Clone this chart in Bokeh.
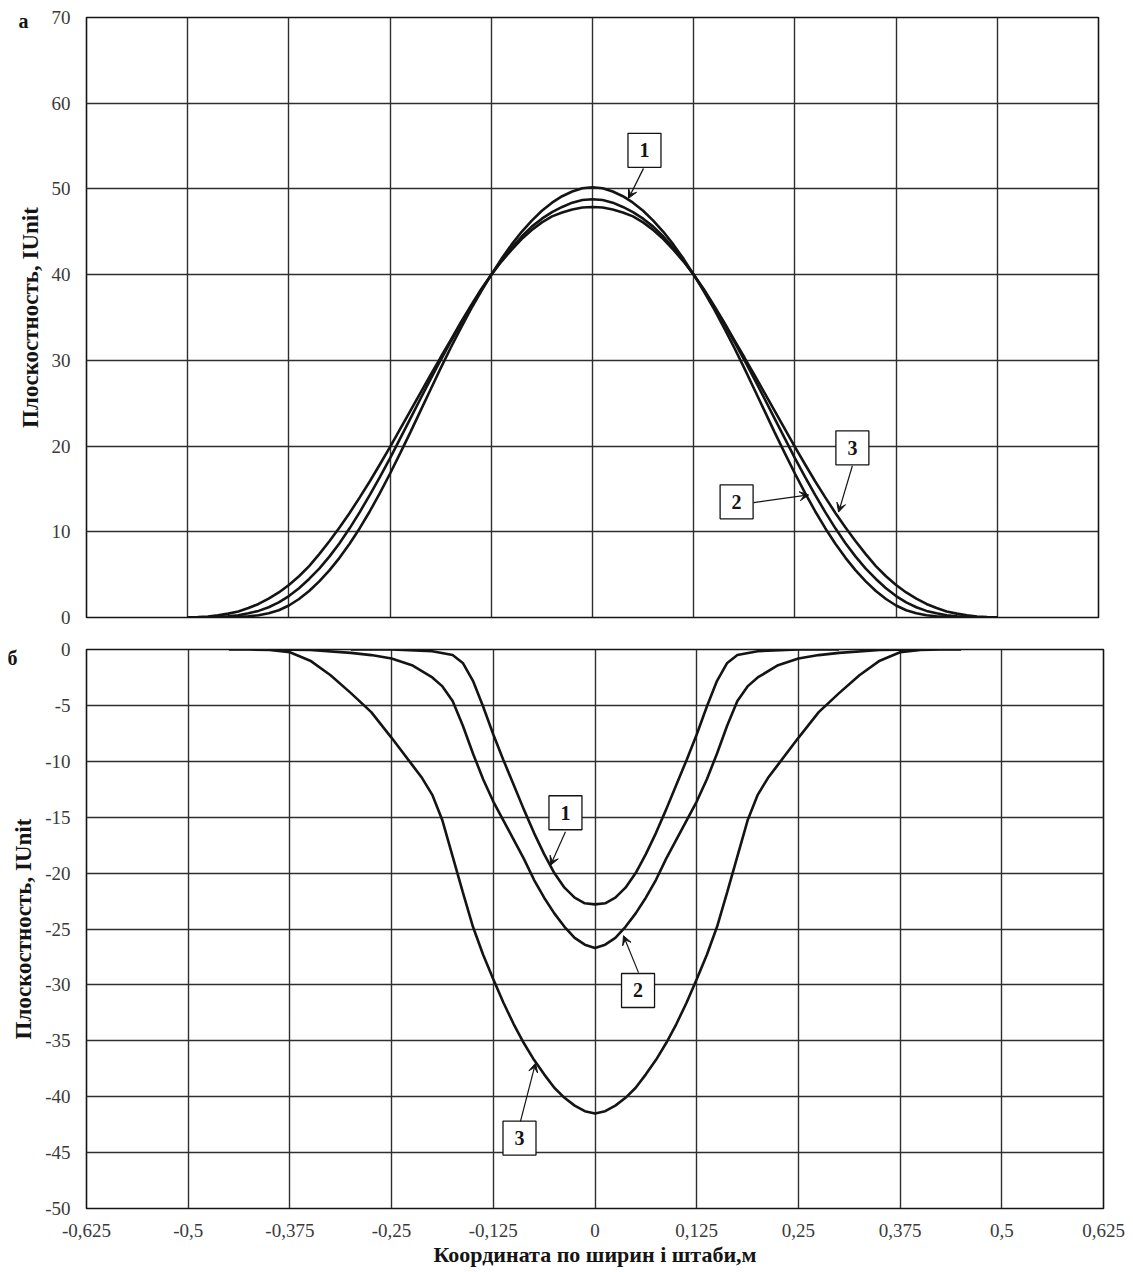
from bokeh.plotting import figure
from bokeh.layouts import column
from bokeh.models import FixedTicker, Arrow, VeeHead, Range1d, LinearAxis
from bokeh.core.properties import value
from bokeh.embed import file_html
from bokeh.resources import INLINE

# ---------------- data ----------------
x_ticks = [-0.625, -0.5, -0.375, -0.25, -0.125, 0.0, 0.125, 0.25, 0.375, 0.5, 0.625]
x_tick_labels = ["-0,625", "-0,5", "-0,375", "-0,25", "-0,125", "0",
                 "0,125", "0,25", "0,375", "0,5", "0,625"]
top_y_ticks = [0, 10, 20, 30, 40, 50, 60, 70]
bottom_y_ticks = [0, -5, -10, -15, -20, -25, -30, -35, -40, -45, -50]
panel_letters = ["а", "б"]
curve_names = ["1", "2", "3"]

# panel "а": positive flatness across the strip width
top_x = [-0.5, -0.4875, -0.475, -0.4625, -0.45, -0.4375, -0.425, -0.4125, -0.4, -0.3875,
         -0.375, -0.3625, -0.35, -0.3375, -0.325, -0.3125, -0.3, -0.2875, -0.275, -0.2625,
         -0.25, -0.2375, -0.225, -0.2125, -0.2, -0.1875, -0.175, -0.1625, -0.15, -0.1375,
         -0.125, -0.1125, -0.1, -0.0875, -0.075, -0.0625, -0.05, -0.0375, -0.025, -0.0125,
         0.0,
         0.0125, 0.025, 0.0375, 0.05, 0.0625, 0.075, 0.0875, 0.1, 0.1125, 0.125,
         0.1375, 0.15, 0.1625, 0.175, 0.1875, 0.2, 0.2125, 0.225, 0.2375, 0.25,
         0.2625, 0.275, 0.2875, 0.3, 0.3125, 0.325, 0.3375, 0.35, 0.3625, 0.375,
         0.3875, 0.4, 0.4125, 0.425, 0.4375, 0.45, 0.4625, 0.475, 0.4875, 0.5]
top_curve1 = [0, 0, 0, 0.01, 0.03, 0.07, 0.15, 0.26, 0.5, 0.85,
              1.4, 2.16, 3.1, 4.21, 5.5, 6.96, 8.6, 10.42, 12.4, 14.55,
              16.8, 19.18, 21.6, 24.1, 26.6, 29.1, 31.5, 33.8, 36.0, 38.06,
              40.0, 41.84, 43.5, 45.0, 46.3, 47.45, 48.4, 49.15, 49.7, 50.08,
              50.2,
              50.08, 49.7, 49.15, 48.4, 47.45, 46.3, 45.0, 43.5, 41.84, 40.0,
              38.06, 36.0, 33.8, 31.5, 29.1, 26.6, 24.1, 21.6, 19.18, 16.8,
              14.55, 12.4, 10.42, 8.6, 6.96, 5.5, 4.21, 3.1, 2.16, 1.4,
              0.85, 0.5, 0.26, 0.15, 0.07, 0.03, 0.01, 0, 0, 0]
top_curve2 = [0, 0.01, 0.03, 0.08, 0.15, 0.27, 0.5, 0.77, 1.2, 1.76,
              2.5, 3.42, 4.5, 5.71, 7.1, 8.67, 10.4, 12.3, 14.3, 16.41,
              18.6, 20.9, 23.2, 25.52, 27.8, 30.04, 32.2, 34.3, 36.3, 38.2,
              40.0, 41.63, 43.1, 44.45, 45.6, 46.53, 47.3, 47.9, 48.4, 48.7,
              48.8,
              48.7, 48.4, 47.9, 47.3, 46.53, 45.6, 44.45, 43.1, 41.63, 40.0,
              38.2, 36.3, 34.3, 32.2, 30.04, 27.8, 25.52, 23.2, 20.9, 18.6,
              16.41, 14.3, 12.3, 10.4, 8.67, 7.1, 5.71, 4.5, 3.42, 2.5,
              1.76, 1.2, 0.77, 0.5, 0.27, 0.15, 0.08, 0.03, 0.01, 0]
top_curve3 = [0.0, 0.04, 0.12, 0.25, 0.45, 0.71, 1.1, 1.58, 2.2, 2.92,
              3.8, 4.81, 6.0, 7.4, 8.9, 10.5, 12.2, 14.01, 15.9, 17.88,
              19.9, 22.0, 24.1, 26.2, 28.3, 30.36, 32.4, 34.45, 36.4, 38.29,
              40.0, 41.53, 42.9, 44.14, 45.2, 46.1, 46.8, 47.26, 47.6, 47.83,
              47.9,
              47.83, 47.6, 47.26, 46.8, 46.1, 45.2, 44.14, 42.9, 41.53, 40.0,
              38.29, 36.4, 34.45, 32.4, 30.36, 28.3, 26.2, 24.1, 22.0, 19.9,
              17.88, 15.9, 14.01, 12.2, 10.5, 8.9, 7.4, 6.0, 4.81, 3.8,
              2.92, 2.2, 1.58, 1.1, 0.71, 0.45, 0.25, 0.12, 0.04, 0.0]

# panel "б": negative flatness across the strip width
bot1_x = [-0.3, -0.25, -0.2, -0.175, -0.1625, -0.15, -0.1375, -0.125, -0.1125, -0.1,
          -0.0875, -0.075, -0.0625, -0.05, -0.0375, -0.025, -0.0125, 0.0,
          0.0125, 0.025, 0.0375, 0.05, 0.0625, 0.075, 0.0875, 0.1, 0.1125,
          0.125, 0.1375, 0.15, 0.1625, 0.175, 0.2, 0.25, 0.3]
bot1_y = [0, 0, -0.15, -0.5, -1.2, -2.8, -5.1, -7.6, -9.9, -12.1,
          -14.3, -16.4, -18.3, -20.0, -21.3, -22.2, -22.7, -22.8,
          -22.7, -22.2, -21.3, -20.0, -18.3, -16.4, -14.3, -12.1, -9.9,
          -7.6, -5.1, -2.8, -1.2, -0.5, -0.15, 0, 0]

bot2_x = [-0.4, -0.35, -0.3, -0.275, -0.25, -0.225, -0.2, -0.1875, -0.175, -0.1625,
          -0.15, -0.1375, -0.125, -0.1125, -0.1, -0.0875, -0.075, -0.0625, -0.05,
          -0.0375, -0.025, -0.0125, 0.0,
          0.0125, 0.025, 0.0375, 0.05, 0.0625, 0.075, 0.0875, 0.1, 0.1125, 0.125,
          0.1375, 0.15, 0.1625, 0.175, 0.1875, 0.2, 0.225, 0.25, 0.275, 0.3, 0.35, 0.4]
bot2_y = [0, -0.05, -0.3, -0.5, -0.8, -1.4, -2.5, -3.3, -4.6, -6.8,
          -9.3, -11.6, -13.6, -15.3, -17.0, -18.7, -20.6, -22.2, -23.6,
          -24.8, -25.8, -26.4, -26.7,
          -26.4, -25.8, -24.8, -23.6, -22.2, -20.6, -18.7, -17.0, -15.3, -13.6,
          -11.6, -9.3, -6.8, -4.6, -3.3, -2.5, -1.4, -0.8, -0.5, -0.3, -0.05, 0]

bot3_x = [-0.45, -0.425, -0.4, -0.375, -0.35, -0.325, -0.3, -0.275, -0.25, -0.225,
          -0.2125, -0.2, -0.1875, -0.175, -0.1625, -0.15, -0.1375, -0.125, -0.1125, -0.1,
          -0.0875, -0.075, -0.0625, -0.05, -0.0375, -0.025, -0.0125, 0.0,
          0.0125, 0.025, 0.0375, 0.05, 0.0625, 0.075, 0.0875, 0.1, 0.1125, 0.125,
          0.1375, 0.15, 0.1625, 0.175, 0.1875, 0.2, 0.2125, 0.225, 0.25, 0.275, 0.3,
          0.325, 0.35, 0.375, 0.4, 0.425, 0.45]
bot3_y = [0, 0, -0.05, -0.25, -1.0, -2.3, -3.9, -5.6, -7.9, -10.3,
          -11.5, -13.0, -15.3, -18.5, -21.7, -24.8, -27.3, -29.5, -31.6, -33.5,
          -35.2, -36.7, -38.0, -39.2, -40.1, -40.8, -41.3, -41.5,
          -41.3, -40.8, -40.1, -39.2, -38.0, -36.7, -35.2, -33.5, -31.6, -29.5,
          -27.3, -24.8, -21.7, -18.5, -15.3, -13.0, -11.5, -10.3, -7.9, -5.6, -3.9,
          -2.3, -1.0, -0.25, -0.05, 0, 0]

# ---------------- styling ----------------
SERIF = "Liberation Serif"
INK = "#141414"
GRID = "#2e2e2e"
TICK_INK = "#3a3a3a"
CURVE_W = 2.6


def quiet_ticks(ax):
    ax.axis_line_color = None
    ax.major_tick_line_color = None
    ax.minor_tick_line_color = None
    ax.major_tick_out = 0
    ax.major_tick_in = 0
    ax.minor_tick_out = 0
    ax.minor_tick_in = 0


def style(p, y_ticks, show_x):
    p.background_fill_color = "white"
    p.border_fill_color = "white"
    p.outline_line_color = INK
    p.outline_line_width = 1.6
    p.xgrid.ticker = FixedTicker(ticks=x_ticks)
    p.ygrid.ticker = FixedTicker(ticks=y_ticks)
    p.grid.grid_line_color = GRID
    p.grid.grid_line_width = 1.4
    p.grid.grid_line_alpha = 1.0

    ya = p.yaxis[0]
    ya.ticker = FixedTicker(ticks=y_ticks)
    ya.major_label_overrides = {t: str(t) for t in y_ticks}
    quiet_ticks(ya)
    ya.major_label_standoff = 16
    ya.major_label_text_font = SERIF
    ya.major_label_text_font_size = "19px"
    ya.major_label_text_color = TICK_INK
    ya.axis_label = "Плоскостность, IUnit"
    ya.axis_label_text_font = SERIF
    ya.axis_label_text_font_style = "bold"
    ya.axis_label_text_font_size = "23px"
    ya.axis_label_text_color = INK
    ya.axis_label_standoff = 6

    xa = p.xaxis[0]
    if show_x:
        xa.ticker = FixedTicker(ticks=x_ticks)
        xa.major_label_overrides = {t: s for t, s in zip(x_ticks, x_tick_labels)}
        quiet_ticks(xa)
        xa.major_label_standoff = 15
        xa.major_label_text_font = SERIF
        xa.major_label_text_font_size = "19px"
        xa.major_label_text_color = TICK_INK
        xa.axis_label = "Координата по ширин і штаби,м"
        xa.axis_label_text_font = SERIF
        xa.axis_label_text_font_style = "bold"
        xa.axis_label_text_font_size = "22px"
        xa.axis_label_text_color = INK
        xa.axis_label_standoff = 2
    else:
        xa.visible = False


def panel_letter(p, letter, at, standoff):
    # outer left axis carrying only the panel letter
    ax = LinearAxis(ticker=FixedTicker(ticks=[at]), major_label_overrides={at: letter},
                    major_label_standoff=standoff,
                    major_label_text_font=SERIF, major_label_text_font_style="bold",
                    major_label_text_font_size="20px", major_label_text_color=INK)
    quiet_ticks(ax)
    p.add_layout(ax, "left")


def callout(p, text, bx, by, sx, sy, ex, ey):
    # numbered box with a thin arrow pointing at a curve
    p.add_layout(Arrow(end=VeeHead(size=9, fill_color=INK, line_color=INK, line_width=1),
                       x_start=sx, y_start=sy, x_end=ex, y_end=ey,
                       line_color=INK, line_width=1.2))
    p.rect(x=[bx], y=[by], width=33, height=34, width_units="screen",
           height_units="screen", fill_color="white", line_color=INK, line_width=1.3)
    p.text(x=[bx], y=[by], text=[text], text_align="center", text_baseline="middle",
           text_font=value(SERIF), text_font_style="bold", text_font_size="20px",
           text_color=INK)


# ---------------- panel а ----------------
top = figure(frame_width=1012, frame_height=600,
             min_border_left=86, min_border_right=35, min_border_top=17, min_border_bottom=16,
             x_range=Range1d(-0.625, 0.625), y_range=Range1d(0, 70),
             output_backend="svg", toolbar_location=None)
style(top, top_y_ticks, show_x=False)
panel_letter(top, panel_letters[0], 69.6, -14)

for ys in (top_curve3, top_curve2, top_curve1):
    top.line(top_x, ys, line_color=INK, line_width=CURVE_W)

callout(top, curve_names[0], 0.0642, 54.5, 0.063, 52.4, 0.0445, 48.9)
callout(top, curve_names[1], 0.178, 13.5, 0.199, 13.4, 0.267, 14.3)
callout(top, curve_names[2], 0.321, 19.8, 0.321, 17.7, 0.304, 12.3)

# ---------------- panel б ----------------
bottom = figure(frame_width=1017, frame_height=559,
                min_border_left=83, min_border_right=33, min_border_top=16, min_border_bottom=64,
                x_range=Range1d(-0.625, 0.625), y_range=Range1d(-50, 0),
                output_backend="svg", toolbar_location=None)
style(bottom, bottom_y_ticks, show_x=True)
panel_letter(bottom, panel_letters[1], -0.8, -9)

bottom.line(bot3_x, bot3_y, line_color=INK, line_width=CURVE_W)
bottom.line(bot2_x, bot2_y, line_color=INK, line_width=CURVE_W)
bottom.line(bot1_x, bot1_y, line_color=INK, line_width=CURVE_W)

callout(bottom, curve_names[0], -0.0363, -14.6, -0.0363, -16.3, -0.0547, -19.3)
callout(bottom, curve_names[1], 0.0529, -30.5, 0.0535, -28.9, 0.035, -25.6)
callout(bottom, curve_names[2], -0.0928, -43.7, -0.0916, -42.2, -0.0731, -37.0)

layout = column(top, bottom, spacing=0)
open("out.html", "w").write(file_html(layout, INLINE))
